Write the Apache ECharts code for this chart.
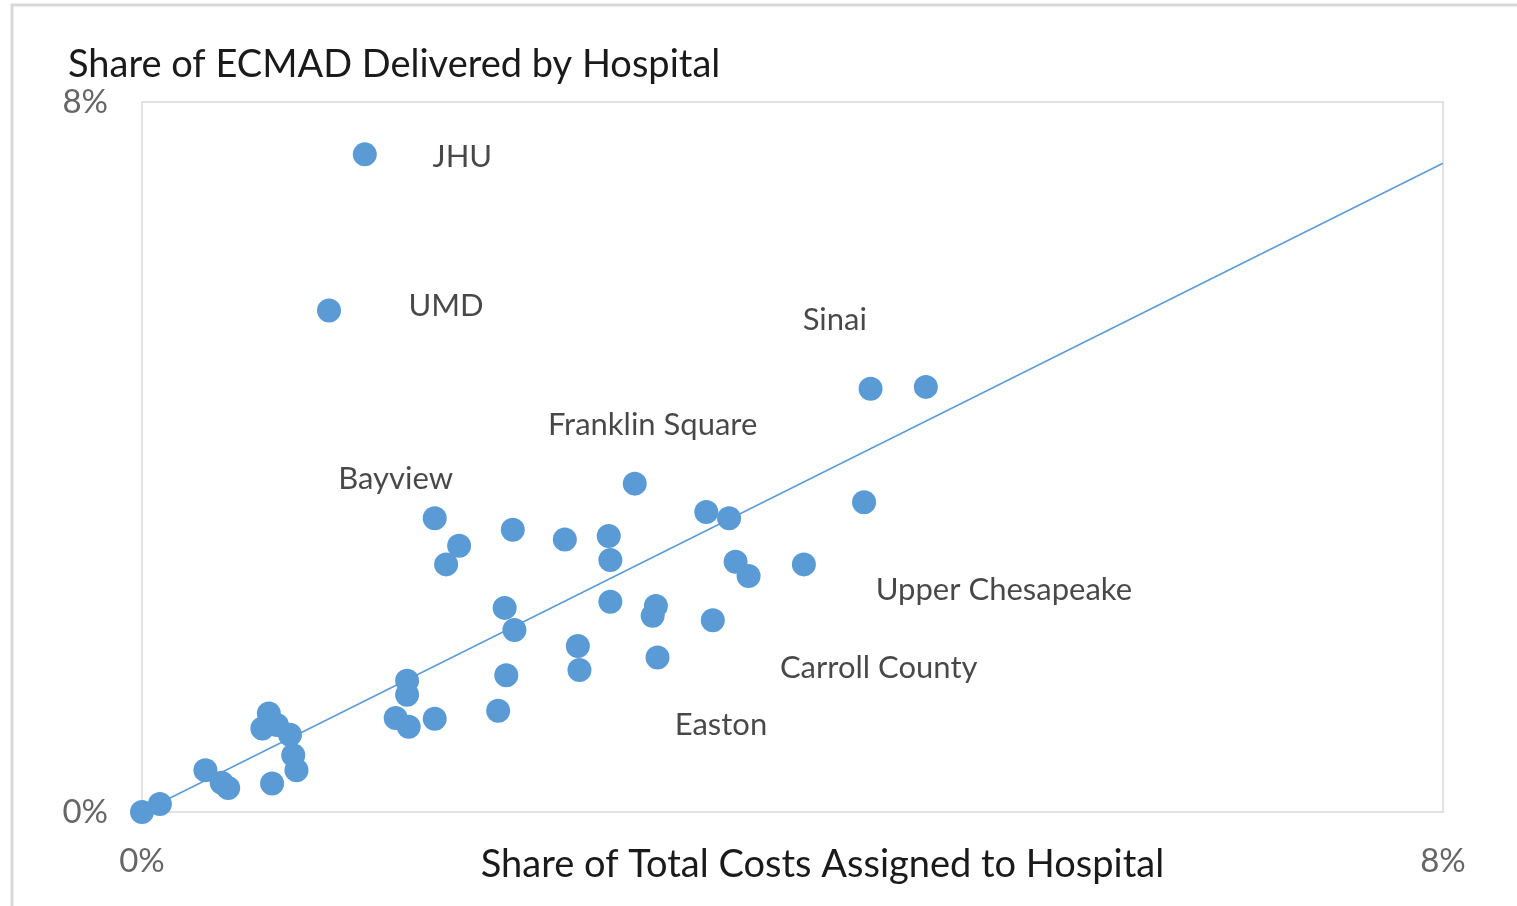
<!DOCTYPE html>
<html>
<head>
<meta charset="UTF-8">
<title>Share of ECMAD Delivered by Hospital</title>
<script src="https://cdn.jsdelivr.net/npm/echarts@6/dist/echarts.min.js"></script>
<style>
  html, body { margin: 0; padding: 0; background: #fff; }
  #main { width: 1517px; height: 906px; }
</style>
</head>
<body>
<div id="main"></div>
<script>
// share of total costs (%), share of ECMAD (%)
var costShare = [1.37, 1.15, 4.48, 4.82, 4.44, 3.03, 3.47, 3.61, 1.80, 1.95, 1.87, 2.28, 2.60, 2.87,
                 2.88, 3.65, 3.73, 4.07, 2.88, 3.16, 3.14, 3.51, 2.23, 2.29, 2.68, 2.69, 3.17, 2.24,
                 1.63, 1.63, 1.56, 1.64, 1.80, 2.19, 0.78, 0.74, 0.83, 0.91, 0.93, 0.95, 0.80, 0.39,
                 0.49, 0.53, 0.11, 0.00];
var ecmadShare = [7.41, 5.65, 4.77, 4.79, 3.49, 3.70, 3.38, 3.31, 3.31, 3.00, 2.79, 3.18, 3.07, 3.11,
                  2.84, 2.82, 2.66, 2.79, 2.37, 2.32, 2.21, 2.16, 2.30, 2.05, 1.87, 1.60, 1.74, 1.54,
                  1.48, 1.32, 1.06, 0.96, 1.05, 1.14, 1.11, 0.94, 0.98, 0.87, 0.64, 0.47, 0.32, 0.47,
                  0.33, 0.27, 0.09, 0.00];
// trend line end points
var trendX = [0, 8];
var trendY = [0, 7.31];
// hospital name annotations
var labelNames = ['JHU', 'UMD', 'Sinai', 'Franklin Square', 'Bayview', 'Upper Chesapeake', 'Carroll County', 'Easton'];
var labelX = [1.97, 1.87, 4.26, 3.14, 1.56, 5.30, 4.53, 3.56];
var labelY = [7.38, 5.70, 5.54, 4.36, 3.75, 2.50, 1.62, 0.98];
var axisTicks = [0, 8];

var points = [];
for (var i = 0; i < costShare.length; i++) {
    points.push([costShare[i], ecmadShare[i]]);
}
var trend = [];
for (var i = 0; i < trendX.length; i++) {
    trend.push([trendX[i], trendY[i]]);
}
var labels = [];
for (var i = 0; i < labelNames.length; i++) {
    labels.push({ name: labelNames[i], value: [labelX[i], labelY[i]] });
}

var font = 'Lato, "Open Sans", sans-serif';
var myChart = echarts.init(document.getElementById('main'));
var option = {
    backgroundColor: '#fff',
    animation: false,
    title: {
        text: 'Share of ECMAD Delivered by Hospital',
        left: 63,
        top: 41,
        textStyle: { fontFamily: font, fontSize: 38, fontWeight: 'normal', color: '#1a1a1a' }
    },
    graphic: [{
        type: 'polyline',
        shape: { points: [[12, 930], [12, 5], [1530, 5]] },
        style: { stroke: '#d9d9d9', lineWidth: 3, fill: null }
    }],
    grid: {
        left: 142, right: 74, top: 102, bottom: 94,
        outerBoundsMode: 'none',
        show: true, borderColor: '#d9d9d9', borderWidth: 1.5
    },
    xAxis: {
        type: 'value',
        min: axisTicks[0], max: axisTicks[1], interval: 8,
        name: 'Share of Total Costs Assigned to Hospital',
        nameLocation: 'middle',
        nameGap: 34,
        nameMoveOverlap: false,
        nameTextStyle: { fontFamily: font, fontSize: 38, color: '#1a1a1a', padding: [0, 0, 0, 60] },
        axisLine: { show: false },
        axisTick: { show: false },
        splitLine: { show: false },
        axisLabel: { formatter: '{value}%', fontFamily: font, fontSize: 33, color: '#666', margin: 33 }
    },
    yAxis: {
        type: 'value',
        min: axisTicks[0], max: axisTicks[1], interval: 8,
        axisLine: { show: false },
        axisTick: { show: false },
        splitLine: { show: false },
        axisLabel: { formatter: '{value}%', fontFamily: font, fontSize: 33, color: '#666', margin: 34 }
    },
    series: [
        {
            type: 'line',
            data: trend,
            symbol: 'none',
            lineStyle: { color: '#5b9bd5', width: 1.5 },
            z: 1
        },
        {
            type: 'scatter',
            data: points,
            symbolSize: 24,
            itemStyle: { color: '#5b9bd5', opacity: 1 },
            z: 2
        },
        {
            type: 'scatter',
            data: labels,
            symbolSize: 0,
            label: {
                show: true,
                position: 'inside',
                formatter: '{b}',
                fontFamily: font,
                fontSize: 31,
                color: '#1a1a1a'
            },
            z: 3
        }
    ]
};
myChart.setOption(option);
</script>
</body>
</html>
